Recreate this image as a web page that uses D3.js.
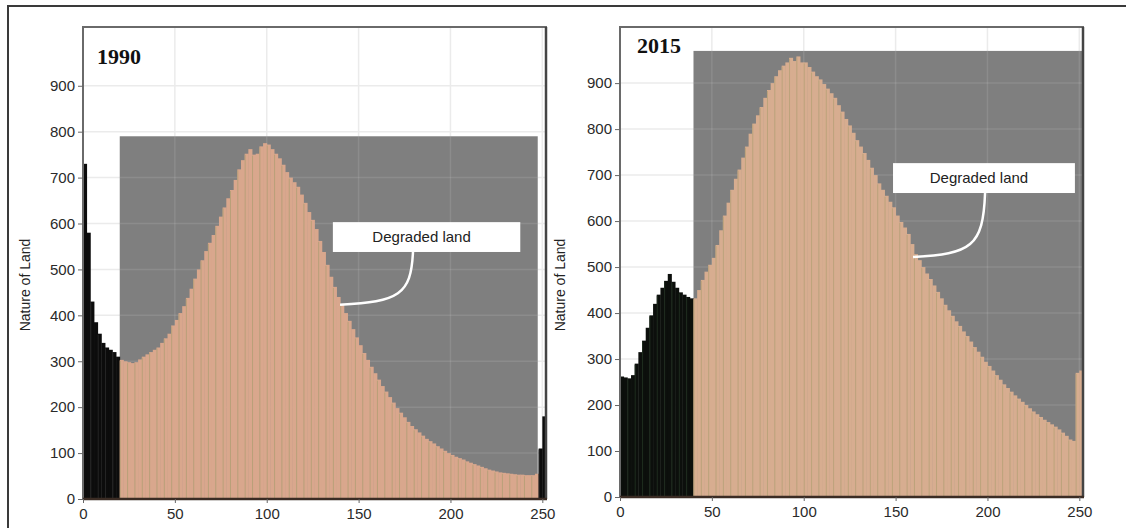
<!DOCTYPE html>
<html>
<head>
<meta charset="utf-8">
<script src="https://cdn.jsdelivr.net/npm/d3@7"></script>
<style>
  body { margin: 0; background: #fff; }
  svg { display: block; font-family: Arial, "Liberation Sans", sans-serif; }
</style>
</head>
<body>
<div id="chart"></div>
<script>
// histogram counts, one value per 2-unit bin (0,2,4 ... 250)
var binStart = d3.range(0, 252, 2);
var counts1990 = [730,580,430,385,360,340,330,325,320,310,
  303,300,298,296,298,304,310,315,320,325,
  330,340,350,360,378,390,405,420,438,458,
  480,500,520,540,558,575,595,615,635,655,
  673,695,718,738,752,762,750,752,768,775,
  772,762,752,742,728,712,700,690,680,663,
  645,625,608,588,562,538,510,484,462,440,
  425,405,388,370,352,335,318,303,288,274,
  260,246,234,222,210,198,188,178,168,159,
  152,145,138,131,126,121,115,110,105,100,
  96,92,89,86,82,79,76,73,70,67,
  64,62,60,58,57,56,55,54,53,53,
  52,52,52,55,110,180];
var counts2015 = [262,260,258,265,290,315,340,368,395,420,
  440,455,470,485,468,455,445,440,435,432,
  432,450,472,490,505,520,548,580,612,640,
  668,692,712,738,762,790,812,830,848,868,
  885,900,915,928,938,945,955,948,958,945,
  945,935,925,915,908,898,888,878,868,852,
  838,822,808,792,776,762,748,733,716,700,
  682,668,655,642,630,612,598,586,572,550,
  528,515,500,486,474,460,446,432,418,406,
  394,382,372,360,350,338,326,316,305,294,
  285,275,265,255,245,237,229,221,214,207,
  200,193,186,180,174,168,163,158,153,147,
  140,133,125,122,270,275];
var darkRanges1990 = [[0, 20], [248, 252]];
var darkRanges2015 = [[0, 40]];
var selection1990 = {x0: 20, x1: 247.5, top: 790};
var selection2015 = {x0: 40, x1: 252, top: 970};
var xTicks = [0, 50, 100, 150, 200, 250];
var yTicks = [0, 100, 200, 300, 400, 500, 600, 700, 800, 900];
var note1990 = {label: "Degraded land", box: [136, 238, 603, 538], from: [179.6, 538], to: [139.9, 423]};
var note2015 = {label: "Degraded land", box: [148.6, 247.6, 726, 661], from: [198.7, 661], to: [159.5, 522]};

var panels = [
  {year: "1990", counts: counts1990, dark: darkRanges1990, sel: selection1990, note: note1990,
   left: 83, right: 546, top: 27, bottom: 499, yMax: 1028, yearX: 97, yearY: 64, labelX: 30,
   fill: "#d9a78d", stripe: "#b9a079", darkFill: "#0c0c0c", darkStripe: "#262626"},
  {year: "2015", counts: counts2015, dark: darkRanges2015, sel: selection2015, note: note2015,
   left: 620, right: 1083, top: 27, bottom: 497, yMax: 1022, yearX: 637, yearY: 53, labelX: 565,
   fill: "#d7ad90", stripe: "#bca37b", darkFill: "#0c0f0c", darkStripe: "#1f2d1f"}
];

var svg = d3.select("#chart").append("svg").attr("width", 1126).attr("height", 528);

svg.append("rect").attr("x", 8).attr("y", 6).attr("width", 1140).attr("height", 560)
  .attr("fill", "none").attr("stroke", "#3a3a3a").attr("stroke-width", 2);

panels.forEach(function(p, k) {
  var x = d3.scaleLinear().domain([0, 252]).range([p.left, p.right]);
  var y = d3.scaleLinear().domain([0, p.yMax]).range([p.bottom, p.top]);
  var g = svg.append("g");
  var isDark = function(u) {
    return p.dark.some(function(r) { return u >= r[0] && u < r[1]; });
  };

  // grid on white
  g.append("g").selectAll("line").data(xTicks).enter().append("line")
    .attr("x1", function(d) { return x(d); }).attr("x2", function(d) { return x(d); })
    .attr("y1", p.top).attr("y2", p.bottom)
    .attr("stroke", "#ebebeb").attr("stroke-width", 1.5);
  g.append("g").selectAll("line").data(yTicks).enter().append("line")
    .attr("x1", p.left).attr("x2", p.right)
    .attr("y1", function(d) { return y(d); }).attr("y2", function(d) { return y(d); })
    .attr("stroke", "#ebebeb").attr("stroke-width", 1.5);

  // selected range box
  var sx0 = x(p.sel.x0), sx1 = x(p.sel.x1), sy = y(p.sel.top);
  g.append("rect").attr("x", sx0).attr("y", sy).attr("width", sx1 - sx0).attr("height", p.bottom - sy)
    .attr("fill", "#7f7f7f");
  g.append("clipPath").attr("id", "sel" + k).append("rect")
    .attr("x", sx0).attr("y", sy).attr("width", sx1 - sx0).attr("height", p.bottom - sy);
  var gg = g.append("g").attr("clip-path", "url(#sel" + k + ")");
  gg.selectAll(".gx").data(xTicks).enter().append("line")
    .attr("x1", function(d) { return x(d); }).attr("x2", function(d) { return x(d); })
    .attr("y1", p.top).attr("y2", p.bottom)
    .attr("stroke", "#fff").attr("stroke-opacity", 0.1).attr("stroke-width", 1.5);
  gg.selectAll(".gy").data(yTicks).enter().append("line")
    .attr("x1", p.left).attr("x2", p.right)
    .attr("y1", function(d) { return y(d); }).attr("y2", function(d) { return y(d); })
    .attr("stroke", "#fff").attr("stroke-opacity", 0.1).attr("stroke-width", 1.5);

  // histogram bars
  var bars = binStart.map(function(u, i) { return {u: u, v: p.counts[i], i: i}; });
  g.append("g").selectAll("rect").data(bars).enter().append("rect")
    .attr("x", function(d) { return x(d.u); })
    .attr("width", function(d) { return x(d.u + 2) - x(d.u) + 0.4; })
    .attr("y", function(d) { return y(d.v); })
    .attr("height", function(d) { return p.bottom - y(d.v); })
    .attr("fill", function(d) { return isDark(d.u) ? p.darkFill : p.fill; });
  g.append("g").selectAll("line").data(bars.filter(function(d) { return d.i % 2 == 0; })).enter().append("line")
    .attr("x1", function(d) { return x(d.u) + 0.5; }).attr("x2", function(d) { return x(d.u) + 0.5; })
    .attr("y1", function(d) { return y(d.v) + 1; }).attr("y2", p.bottom)
    .attr("stroke", function(d) { return isDark(d.u) ? p.darkStripe : p.stripe; })
    .attr("stroke-width", 1);

  // frame
  g.append("path")
    .attr("d", "M" + p.left + "," + p.bottom + "V" + p.top + "H" + p.right + "V" + p.bottom)
    .attr("fill", "none").attr("stroke", "#6a6a6a").attr("stroke-width", 2);
  g.append("line").attr("x1", p.right).attr("x2", p.right).attr("y1", p.top).attr("y2", p.bottom)
    .attr("stroke", "#444").attr("stroke-width", 2.5);
  g.append("line").attr("x1", p.left).attr("x2", p.right + 1).attr("y1", p.bottom).attr("y2", p.bottom)
    .attr("stroke", "#3b2c24").attr("stroke-width", 2.5);

  // axes
  var ya = g.append("g").attr("transform", "translate(" + p.left + ",0)")
    .call(d3.axisLeft(y).tickValues(yTicks).tickSize(5).tickPadding(3));
  var xa = g.append("g").attr("transform", "translate(0," + p.bottom + ")")
    .call(d3.axisBottom(x).tickValues(xTicks).tickSize(4).tickPadding(5));
  [ya, xa].forEach(function(a) {
    a.select(".domain").remove();
    a.selectAll("line").attr("stroke", "#666");
    a.selectAll("text").attr("fill", "#2a2a2a").attr("font-size", "15px")
      .attr("font-family", "Arial, 'Liberation Sans', sans-serif");
  });

  g.append("text").attr("transform", "translate(" + p.labelX + "," + 285 + ") rotate(-90)")
    .attr("text-anchor", "middle").attr("font-size", "14px").attr("fill", "#222")
    .text("Nature of Land");

  g.append("text").attr("x", p.yearX).attr("y", p.yearY)
    .attr("font-family", "'Liberation Serif', 'Times New Roman', serif")
    .attr("font-weight", "bold").attr("font-size", "22px").attr("fill", "#111")
    .text(p.year);

  // annotation
  var n = p.note;
  var bx0 = x(n.box[0]), bx1 = x(n.box[1]), by0 = y(n.box[2]), by1 = y(n.box[3]);
  var fx = x(n.from[0]), fy = y(n.from[1]), tx = x(n.to[0]), ty = y(n.to[1]);
  g.append("path")
    .attr("d", "M" + fx + "," + fy + "C" + (fx - 2) + "," + (ty - 10) + " " + (fx - 14) + "," + (ty - 3) + " " + tx + "," + ty)
    .attr("fill", "none").attr("stroke", "#fff").attr("stroke-width", 2.5);
  g.append("rect").attr("x", bx0).attr("y", by0).attr("width", bx1 - bx0).attr("height", by1 - by0)
    .attr("fill", "#fff");
  g.append("text").attr("x", (bx0 + bx1) / 2 - 5).attr("y", (by0 + by1) / 2).attr("dy", "0.35em")
    .attr("text-anchor", "middle").attr("font-size", "15px").attr("fill", "#222")
    .text(n.label);
});
</script>
</body>
</html>
